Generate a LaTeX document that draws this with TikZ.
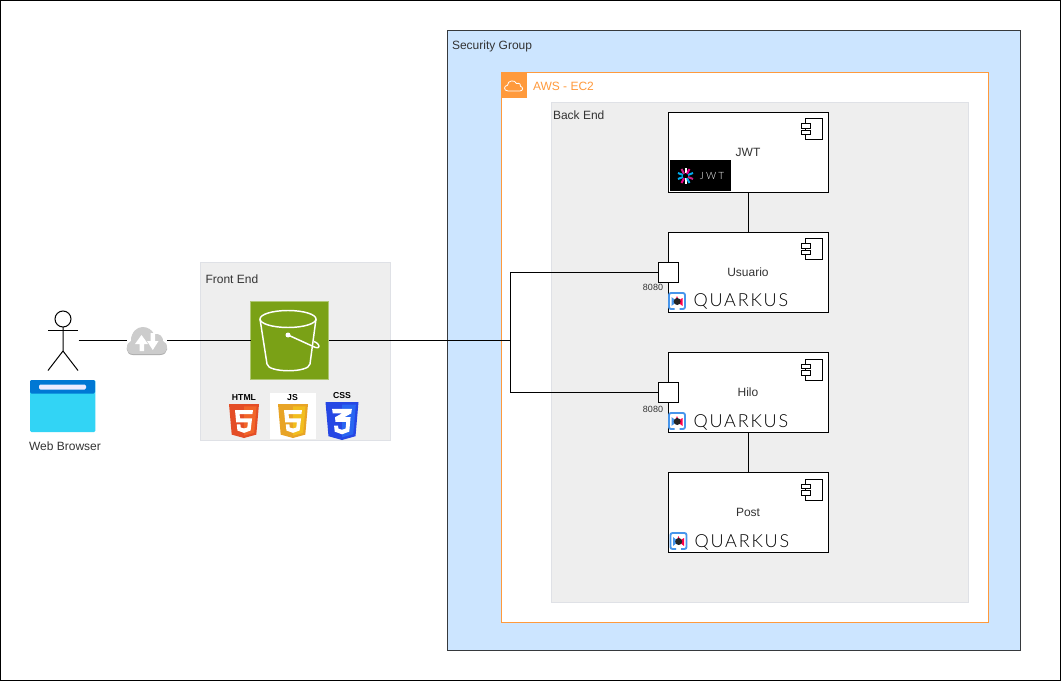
\documentclass[tikz,border=0pt]{standalone}
\usepackage{fontspec}
\setmainfont{Liberation Sans}
\newfontfamily\qfont[LetterSpace=10,UprightFont={* Light}]{Lato}
\newfontfamily\jfont[LetterSpace=22,UprightFont={* Light}]{Lato}
\definecolor{sgfill}{HTML}{CCE5FF}
\definecolor{sgline}{HTML}{36393D}
\definecolor{awsor}{HTML}{FF9A3C}
\definecolor{panel}{HTML}{EEEEEE}
\definecolor{panelline}{HTML}{DFE1E6}
\definecolor{bucketg}{HTML}{7AA116}
\definecolor{txt}{HTML}{333333}
\definecolor{qblue}{HTML}{4695EB}
\definecolor{qred}{HTML}{FF004A}
\definecolor{htmld}{HTML}{E44D26}
\definecolor{htmll}{HTML}{F16529}
\definecolor{jsd}{HTML}{E8A426}
\definecolor{jsl}{HTML}{F2BE1E}
\definecolor{cssd}{HTML}{2647E4}
\definecolor{cssl}{HTML}{2965F1}
\tikzset{
  every node/.style={font=\fontsize{9}{11}\selectfont,text=txt,inner sep=0pt,outer sep=0pt},
  panelbox/.style={draw=panelline,fill=panel,anchor=north west},
  comp/.style={draw=black,fill=white,minimum width=120pt,minimum height=60pt},
  portbox/.style={draw=black,fill=white,minimum width=15pt,minimum height=15pt},
  tag/.style={anchor=west},
  portlabel/.style={font=\fontsize{6.75}{8}\selectfont},
  link/.style={draw=black,line width=.75pt},
  logotxt/.style={font=\fontsize{13.5}{15}\qfont,text=black},
  shieldtxt/.style={font=\fontsize{6.5}{7}\bfseries,text=black},
}
\newcommand{\compglyph}[2]{%
  \begin{scope}[shift={(#1,#2)}]
    \draw[black,fill=white] (137.5,7) rectangle (154,28);
    \draw[black,fill=white] (133,12) rectangle (142,16.5);
    \draw[black,fill=white] (133,18.5) rectangle (142,23);
  \end{scope}}
\newcommand{\quarkuslogo}[2]{%
  \begin{scope}[shift={(#1,#2)}]
    \draw[line width=1.4pt,draw=qblue,rounded corners=1.5pt]
      (11,16) -- (16.5,16) -- (16.5,0) -- (.5,0) -- (.5,16) -- (6,16);
    \fill[qblue] (8.5,8.5) -- (3,4) -- (3,13) -- cycle;
    \fill[qred] (8.5,8.5) -- (14,5) -- (14,13) -- cycle;
    \fill[qred] (8.5,3) -- (10.5,8) -- (6.5,8) -- cycle;
    \fill[black!85] (8.7,8.5) circle[radius=3.5];
  \end{scope}}
\newcommand{\shield}[7]{%
  \begin{scope}[shift={(#1,#2)},xscale=#3,yscale=#4]
    \fill[#5] (0,0) -- (1,0) -- (.91,.9) -- (.5,1) -- (.09,.9) -- cycle;
    \fill[#6] (.5,.07) -- (.92,.07) -- (.84,.85) -- (.5,.93) -- cycle;
    \fill[white] #7;
  \end{scope}}
\def\five{(.2,.18) -- (.8,.18) -- (.78,.3) -- (.35,.3) -- (.37,.42) -- (.77,.42) -- (.72,.78) -- (.5,.85) -- (.28,.78) -- (.26,.6) -- (.38,.6) -- (.39,.69) -- (.5,.72) -- (.61,.69) -- (.63,.54) -- (.24,.54) -- cycle}
\def\three{(.2,.18) -- (.8,.18) -- (.78,.3) -- (.57,.4) -- (.76,.4) -- (.72,.78) -- (.5,.85) -- (.28,.78) -- (.26,.62) -- (.38,.62) -- (.39,.7) -- (.5,.73) -- (.61,.7) -- (.63,.52) -- (.3,.52) -- (.29,.4) -- (.5,.3) -- (.22,.3) -- cycle}
\begin{document}
\begin{tikzpicture}[x=.75pt,y=-.75pt,line width=.75pt]
\useasboundingbox (0,0) rectangle (1061,681);
\fill[white] (0,0) rectangle (1061,681);
\draw[black] (.5,.5) rectangle (1060.5,680.5);

% containers
\node[panelbox,draw=sgline,fill=sgfill,minimum width=429.75pt,minimum height=465pt] (sg) at (447.5,30.5) {};
\node[panelbox,draw=awsor,fill=white,minimum width=365.25pt,minimum height=412.5pt] (ec2) at (501.5,72.5) {};
\node[panelbox,minimum width=312.75pt,minimum height=375pt] (be) at (551.5,102.5) {};
\node[panelbox,minimum width=142.5pt,minimum height=133.5pt] (fe) at (200.5,262.5) {};
\node[tag] (sglabel) at (452,46.5) {Security Group};
\node[tag,text=awsor] (ec2label) at (533,86.5) {AWS - EC2};
\node[tag] (belabel) at (553,115.5) {Back End};
\node[tag] (felabel) at (205.5,279.5) {Front End};

% aws cloud badge
\node[fill=awsor,minimum size=19.5pt,anchor=north west] (ec2badge) at (501,72) {};
\draw[white,line width=.6pt,line join=round] (508,91) .. controls (503.5,91) and (503.5,85.5) .. (507.5,85.3)
  .. controls (507.5,80) and (515,79.5) .. (516.5,83.5)
  .. controls (519.5,82.5) and (521.5,85) .. (520.5,86.3)
  .. controls (523.5,87) and (523,91) .. (520,91) -- cycle;

% components
\node[comp] (jwt) at (748.5,152.5) {};
\node[comp] (usuario) at (748.5,272.5) {};
\node[comp] (hilo) at (748.5,392.5) {};
\node[comp] (post) at (748.5,512.5) {};
\node (jwtlabel) at (748,152) {JWT};
\node (usuariolabel) at (748,272) {Usuario};
\node (hilolabel) at (748,392) {Hilo};
\node (postlabel) at (748,512) {Post};
\compglyph{668}{112}
\compglyph{668}{232}
\compglyph{668}{352}
\compglyph{668}{472}

% jwt logo
\node[fill=black,minimum width=46pt,minimum height=23pt,anchor=north west] (jwtlogo) at (670,160) {};
\begin{scope}[shift={(685.5,176)},line width=1.5pt]
  \draw[white] (0,-2.5) -- (0,-8);
  \draw[white] (0,2.5) -- (0,8);
  \draw[cyan] (2.5,-1) -- (7.5,-3);
  \draw[cyan] (-2.5,-1) -- (-7.5,-3);
  \draw[magenta!70!violet] (2.5,1) -- (7.5,3);
  \draw[cyan] (-2.5,1) -- (-7.5,3);
  \draw[magenta] (1.5,-2.2) -- (4,-7);
  \draw[magenta!70!violet] (-1.5,-2.2) -- (-4,-7);
  \draw[magenta] (-1.5,2.2) -- (-4,7);
  \draw[cyan] (1.5,2.2) -- (4,7);
\end{scope}
\node[anchor=center,text=white,font=\fontsize{7.5}{8}\jfont] (jwtword) at (712,176) {JWT};

% quarkus logos
\quarkuslogo{668.5}{293}
\quarkuslogo{668.5}{413}
\quarkuslogo{670}{533}
\node[logotxt,anchor=west] (q1) at (693.5,301) {QUARKUS};
\node[logotxt,anchor=west] (q2) at (693.5,422) {QUARKUS};
\node[logotxt,anchor=west] (q3) at (694.5,542) {QUARKUS};

% front end
\node[fill=bucketg,draw=bucketg!60!white,minimum size=58.5pt] (bucket) at (289.5,340) {};
\begin{scope}[line width=1.1pt,line join=round]
  \draw[white] (288,319) ellipse[x radius=28,y radius=8.5];
  \draw[white] (260,319) -- (267,364) .. controls (268,373) and (309,373) .. (310,364) -- (316,319);
  \fill[white] (288,335) circle[radius=2.5];
  \draw[white] (288,335) -- (315.5,347.5) .. controls (320.5,349) and (320.5,344) .. (314,341.5);
\end{scope}
\node[fill=white,minimum width=34.5pt,minimum height=34.5pt,anchor=north west] (jsbox) at (270,393) {};
\shield{229}{404}{30}{34}{htmld}{htmll}{\five}
\shield{278}{404}{30}{34}{jsd}{jsl}{\five}
\shield{325.5}{402}{33}{38}{cssd}{cssl}{\three}
\node[shieldtxt] (htmlword) at (244,398) {HTML};
\node[shieldtxt] (jsword) at (292.5,398) {JS};
\node[shieldtxt] (cssword) at (342,396) {CSS};

% actor
\node[draw=black,fill=white,circle,minimum size=12pt] (head) at (63,319) {};
\coordinate (hip) at (63,351);
\coordinate (armL) at (48,330);
\coordinate (armR) at (78,330);
\coordinate (legL) at (48,370.5);
\coordinate (legR) at (78,370.5);
\draw[black] (head) -- (hip) -- (legL);
\draw[black] (hip) -- (legR);
\draw[black] (armL) -- (armR);

% browser
\node[fill={rgb,255:red,50;green,212;blue,245},rounded corners=1pt,minimum width=49pt,minimum height=39pt,anchor=north west] (browser) at (30,380) {};
\fill[rounded corners=1pt,fill={rgb,255:red,0;green,120;blue,212}] (30,393.5) -- (30,380) -- (95,380) -- (95,393.5) -- cycle;
\fill[rounded corners=1pt,fill=white!92!blue] (39,384.5) rectangle (86,389.5);
\node (browserlabel) at (65,446) {Web Browser};

% cloud
\coordinate (handR) at (78.5,340.5);
\node[minimum width=30pt,minimum height=21pt] (cloud) at (147,340.5) {};
\fill[black!32!white] (133,355) .. controls (125,355) and (125,344) .. (131,342)
  .. controls (131,333) and (137,328) .. (142.5,328)
  .. controls (148,328) and (152,331) .. (154,335)
  .. controls (160,334) and (163,338) .. (163,342)
  .. controls (169,344) and (169,355) .. (160,355) -- cycle;
\fill[black!20!white] (133,354) .. controls (125,354) and (125,343) .. (131,341)
  .. controls (131,332) and (137,327) .. (142.5,327)
  .. controls (148,327) and (152,330) .. (154,334)
  .. controls (160,333) and (163,337) .. (163,341)
  .. controls (169,343) and (169,354) .. (160,354) -- cycle;
\fill[white] (139.5,351) -- (139.5,344) -- (135,344) -- (141.5,335) -- (148,344) -- (144,344) -- (144,351) -- cycle;
\fill[white] (150.5,333) -- (155,333) -- (155,341) -- (158.5,341) -- (152.8,350) -- (147,341) -- (150.5,341) -- cycle;

% connectors
\coordinate (junction) at (510.5,340.5);
\node[portbox] (port1) at (668.5,272.5) {};
\node[portbox] (port2) at (668.5,392.5) {};
\draw[link] (handR) -- (cloud);
\draw[link] (cloud) -- (bucket.west |- cloud);
\draw[link] (bucket.east |- junction) -- (junction);
\draw[link] (junction) |- (port1);
\draw[link] (junction) |- (port2);
\draw[link] (jwt) -- (usuario);
\draw[link] (hilo) -- (post);
\node[portlabel] (p1label) at (653,287.5) {8080};
\node[portlabel] (p2label) at (653,409.5) {8080};
\end{tikzpicture}
\end{document}
